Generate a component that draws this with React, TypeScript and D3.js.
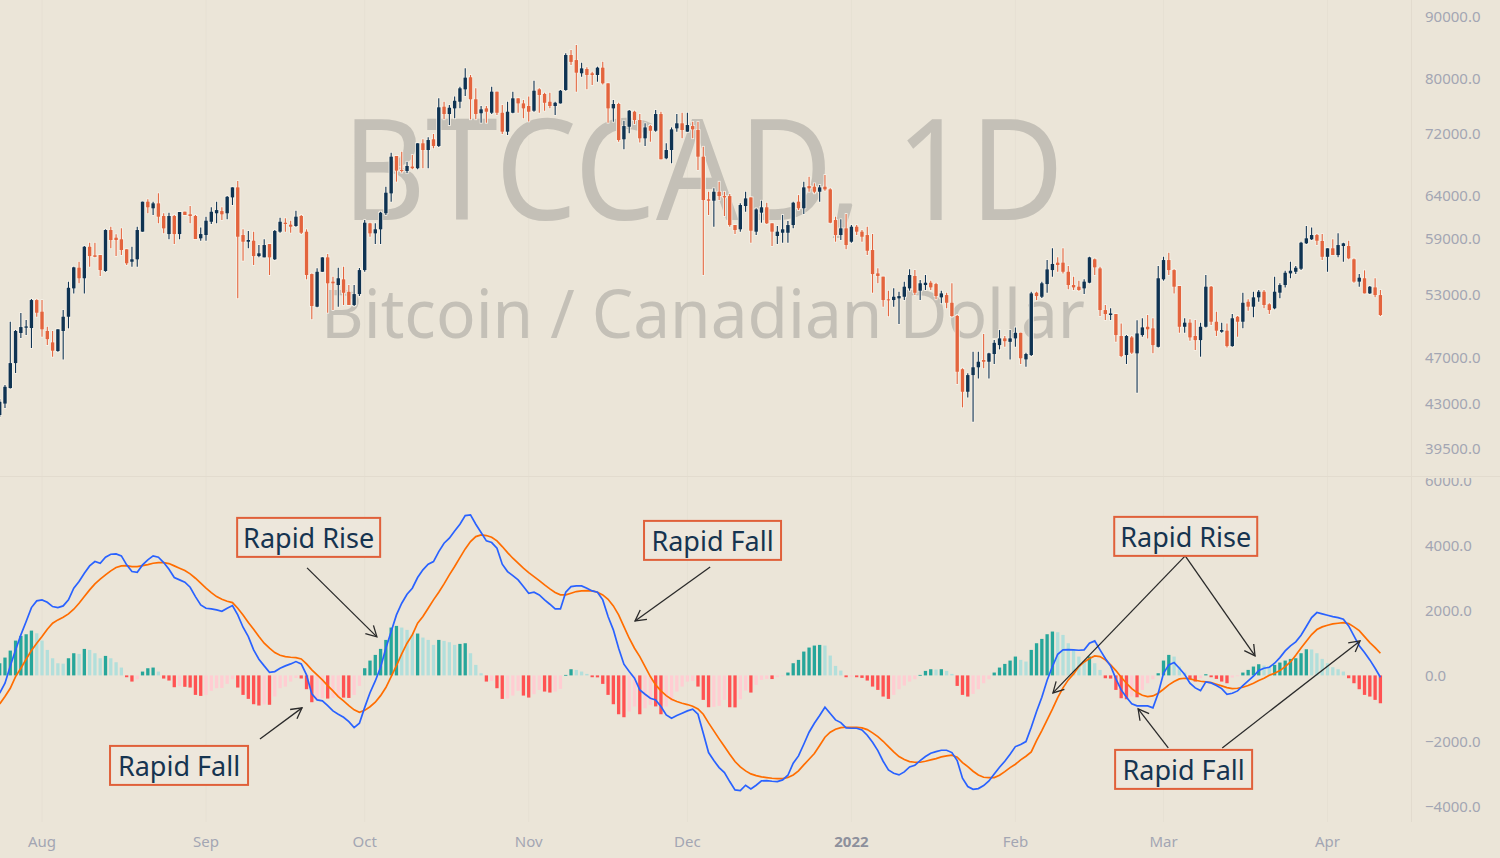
import React from 'react';
import * as d3 from 'd3';

// BTCCAD daily candles, 2021-07-24 .. 2022-04-11
const START = Date.UTC(2021, 6, 24);
const END = Date.UTC(2022, 3, 11);
const DAY = 864e5;

const opens = [
  42060, 42990, 44280, 46440, 49180, 49680, 49650, 52370, 51220, 49370,
  48310, 47520, 49370, 50730, 53550, 55700, 54590, 57970, 57030, 57060,
  55350, 59850, 58980, 58800, 57690, 56340, 56600, 59660, 63170, 62380,
  62970, 61470, 59390, 61470, 59390, 61980, 61670, 61470, 58910, 59280,
  60800, 61790, 62050, 61790, 63690, 64920, 59280, 58530, 58640, 56950,
  56810, 58270, 56600, 59660, 60690, 60460, 60310, 61470, 59660, 55030,
  51710, 55270, 56810, 54240, 53890, 54480, 53200, 51880, 52970, 55450,
  60620, 59470, 59930, 61790, 64180, 68920, 67110, 66980, 67540, 67330,
  70610, 69710, 71150, 70250, 75710, 74660, 75470, 76430, 78260, 80080,
  76790, 74770, 75470, 74840, 77910, 74840, 72190, 74840, 76930, 76190,
  75810, 75130, 78260, 77570, 76430, 75810, 76190, 78160, 83550, 82750,
  80690, 81350, 80690, 80430, 81560, 79160, 75470, 76100, 71150, 72870,
  74990, 73810, 71280, 72970, 72320, 74660, 68620, 69710, 72650, 73350,
  72190, 72970, 72420, 68830, 63450, 63290, 64380, 63850, 63850, 60420,
  59930, 62650, 63690, 59660, 61860, 62500, 60620, 59170, 59540, 59540,
  60420, 63170, 62380, 65080, 65000, 64380, 65000, 64670, 61000, 59280,
  60040, 58530, 60230, 59660, 59280, 57610, 55100, 54760, 52440, 52370,
  52540, 52700, 53550, 54830, 53310, 53890, 54130, 53990, 52640, 52870,
  52100, 50800, 45900, 43970, 45390, 46070, 46710, 46560, 47250, 48060,
  48680, 48360, 48680, 49200, 46770, 47160, 53110, 52700, 53990, 55450,
  56240, 56240, 55270, 53890, 53720, 53550, 54130, 56600, 55630, 51380,
  50900, 50990, 48900, 47160, 48770, 47310, 48990, 49770, 49620, 47900,
  54480, 56520, 55450, 53790, 49770, 50160, 48900, 48520, 49770, 53720,
  50250, 49300, 49400, 47970, 50730, 50250, 52200, 51710, 52640, 53210,
  51950, 51550, 53110, 53890, 55100, 55270, 55590, 58350, 58800, 59280,
  58610, 56870, 57800, 57060, 58050, 58050, 56600, 54240, 54590, 53040,
  53650, 52870,
];

const highs = [
  43360, 44530, 50250, 49460, 51090, 50410, 52470, 52440, 52370, 49770,
  49370, 49530, 51380, 54230, 55810, 56330, 58050, 58420, 58420, 57060,
  59930, 60230, 59360, 60040, 57690, 57970, 60230, 63170, 63450, 63170,
  64180, 61790, 61860, 61590, 61940, 61980, 62650, 61590, 60150, 61390,
  62500, 63170, 62500, 63850, 64920, 65710, 59930, 59740, 59660, 58160,
  58800, 58270, 59850, 61270, 61200, 60920, 62090, 61590, 59930, 55100,
  55630, 56810, 57170, 54760, 55700, 55810, 53890, 53890, 55660, 61000,
  60690, 60620, 61980, 64990, 69350, 68920, 69480, 68180, 69050, 70610,
  71150, 71420, 71870, 76930, 76430, 75950, 77180, 78650, 81450, 80430,
  78410, 75810, 75810, 78650, 77910, 75950, 76430, 77910, 76930, 76680,
  77180, 79550, 78410, 77760, 77760, 76430, 78160, 83820, 84350, 85160,
  82330, 81610, 80940, 81710, 82480, 79160, 76680, 76290, 73710, 75230,
  75130, 74660, 73350, 73110, 75230, 74990, 70610, 72780, 74660, 74840,
  74840, 73570, 73570, 70150, 64380, 64800, 65630, 64380, 64090, 60420,
  62970, 64380, 63690, 62380, 63290, 63050, 60620, 60310, 61590, 60880,
  63170, 63970, 65630, 66250, 65420, 65210, 66470, 64800, 61390, 61080,
  61710, 60420, 60420, 59850, 60230, 59390, 55630, 54760, 53310, 53550,
  53210, 54240, 55530, 55450, 54410, 54930, 54340, 54130, 53310, 53110,
  54070, 50900, 45980, 45540, 47460, 47460, 49080, 47370, 48520, 49460,
  48900, 49460, 49710, 49200, 47370, 53210, 53210, 54240, 56520, 57800,
  56810, 57800, 55880, 54760, 54340, 54480, 56880, 56700, 55810, 51880,
  51550, 50990, 50090, 48990, 48900, 50380, 50580, 50900, 50580, 55880,
  56880, 57310, 55530, 53790, 50580, 50480, 50410, 50150, 54930, 53790,
  51220, 50150, 50090, 50990, 50800, 53110, 52440, 53210, 53380, 53380,
  52040, 54760, 54070, 55380, 56340, 55880, 58530, 60310, 60150, 59390,
  59390, 57800, 58800, 59470, 58420, 58640, 56700, 55030, 55420, 53790,
  54590, 53380,
];

const lows = [
  41900, 42620, 44240, 45570, 48710, 48990, 47790, 50730, 48830, 48060,
  47010, 47460, 46770, 49620, 53040, 54070, 53040, 55810, 56810, 54830,
  55270, 57800, 56950, 57060, 55990, 55810, 55810, 59660, 61790, 61590,
  60620, 59470, 58800, 58270, 58800, 61590, 60620, 58830, 58640, 58640,
  60540, 60620, 61000, 61080, 62770, 52540, 56440, 57800, 55990, 56810,
  56810, 54930, 56520, 59540, 59660, 59540, 60230, 59390, 54480, 50480,
  51650, 55270, 51120, 51380, 51710, 51880, 51880, 51780, 52770, 55270,
  59090, 58270, 58270, 61590, 63170, 65630, 66770, 66690, 67200, 67200,
  67330, 67330, 69940, 70110, 73910, 73110, 74050, 75470, 77270, 73910,
  73910, 73430, 73430, 74660, 74520, 71870, 71730, 74770, 74840, 74050,
  73610, 74990, 74840, 75130, 75470, 74520, 76190, 78050, 81970, 77910,
  80170, 78260, 78900, 79400, 79000, 73430, 73580, 70820, 69800, 71970,
  73250, 70700, 70250, 70820, 72190, 68490, 68490, 67970, 72190, 71280,
  72190, 71280, 67110, 54930, 61590, 60230, 63370, 61470, 60230, 59390,
  59660, 61970, 58420, 59280, 60690, 60540, 58050, 58270, 58420, 58420,
  60040, 62170, 61710, 64380, 64180, 63170, 64510, 60620, 58530, 58720,
  57690, 58420, 59280, 58530, 57060, 53110, 54070, 51710, 50770, 51710,
  50030, 52370, 53310, 52870, 52370, 53380, 53380, 52440, 52040, 51550,
  50730, 44620, 42680, 43500, 41520, 45100, 45980, 45100, 46360, 47670,
  47910, 46770, 47910, 46360, 46120, 47070, 52370, 52570, 53110, 54760,
  55270, 55100, 53450, 53380, 53310, 52970, 54070, 54930, 50800, 50410,
  50410, 48360, 46960, 46360, 47250, 43880, 48830, 48680, 47310, 47850,
  54340, 54930, 53040, 49200, 49200, 48460, 47610, 47010, 49710, 49930,
  48900, 49210, 47850, 47910, 48830, 49620, 51310, 50670, 52200, 51550,
  50990, 51450, 52540, 53650, 54590, 55030, 55450, 58270, 58720, 58160,
  56520, 55270, 57060, 56810, 56340, 56600, 54130, 53720, 53040, 52970,
  52640, 50800,
];

const closes = [
  43140, 44390, 46440, 49370, 49740, 49800, 52370, 51120, 49530, 48610,
  47550, 49530, 50730, 53610, 55740, 54590, 57970, 56950, 56870, 55450,
  59850, 58720, 58720, 57610, 56170, 56600, 59850, 63170, 62500, 62970,
  61390, 60040, 61470, 59390, 61940, 61590, 61470, 58830, 59390, 60920,
  61970, 62170, 61670, 63760, 64920, 59090, 58530, 58720, 56950, 57250,
  58160, 56810, 59740, 60800, 60540, 60230, 61390, 59540, 54930, 51780,
  55270, 56810, 54070, 54070, 54590, 53100, 51880, 52970, 55450, 60690,
  59470, 59930, 61860, 64260, 68830, 67020, 66980, 67620, 67330, 70610,
  69710, 71050, 70250, 75620, 74660, 75560, 76570, 78410, 80020, 76790,
  74660, 75330, 74990, 77910, 74840, 72190, 74990, 76930, 76190, 75470,
  74990, 78050, 77420, 76280, 75810, 76280, 78050, 83550, 82460, 80780,
  81450, 80430, 80430, 81560, 79160, 75470, 76100, 71050, 72970, 75130,
  73810, 71280, 72780, 72320, 74660, 68490, 69710, 72510, 73350, 72420,
  73110, 72510, 68830, 63370, 63290, 64380, 63850, 63690, 60420, 59850,
  62770, 63570, 59770, 62250, 62500, 60620, 59660, 59660, 59930, 60420,
  63050, 62380, 64920, 64800, 64380, 64920, 64670, 60690, 59280, 60040,
  58160, 60230, 59660, 59090, 57530, 55030, 54830, 52370, 52370, 52700,
  52770, 53720, 54930, 53100, 54070, 54130, 53650, 52770, 53040, 52100,
  50800, 45680, 43970, 45390, 46070, 46560, 46560, 47310, 48270, 48680,
  48420, 48680, 49200, 46870, 47250, 53040, 52770, 54070, 55520, 56100,
  55990, 55270, 53890, 53650, 53380, 54240, 56810, 55740, 51380, 50990,
  51050, 48990, 47070, 48900, 47370, 49140, 49710, 49530, 48060, 54590,
  56520, 55450, 53720, 49770, 50160, 48770, 48520, 49770, 53720, 50250,
  49400, 49460, 47970, 50580, 50250, 52100, 51710, 52640, 53210, 51880,
  51380, 53210, 53890, 55170, 55380, 55700, 58420, 58910, 59280, 58640,
  56870, 57800, 57060, 58160, 58350, 56700, 54240, 54650, 53040, 53720,
  52870, 50900,
];

// MACD (12, 26, 9) pane
const macd = [
  -546, -240, 291, 781, 1240, 1649, 2077, 2282, 2313, 2241,
  2108, 2077, 2128, 2313, 2670, 2874, 3129, 3354, 3487, 3436,
  3620, 3711, 3722, 3660, 3385, 3180, 3160, 3385, 3538, 3660,
  3620, 3456, 3252, 2997, 2925, 2854, 2700, 2414, 2159, 2057,
  2037, 2006, 1965, 2057, 2139, 1853, 1475, 1189, 781, 495,
  291, 97, 117, 219, 291, 352, 424, 352, 15, -567,
  -750, -781, -924, -1087, -1189, -1281, -1414, -1598, -1465, -980,
  -530, -170, 250, 832, 1343, 1853, 2210, 2486, 2670, 2997,
  3232, 3405, 3487, 3793, 4048, 4201, 4426, 4630, 4896, 4916,
  4630, 4375, 4120, 4069, 3895, 3405, 3180, 3058, 2925, 2721,
  2517, 2547, 2466, 2313, 2180, 2037, 2037, 2547, 2721, 2741,
  2741, 2670, 2588, 2547, 2313, 1802, 1394, 832, 342, 117,
  -87, -444, -577, -699, -750, -954, -1210, -1312, -1230, -1159,
  -1087, -1036, -1189, -1771, -2364, -2609, -2824, -2976, -3252, -3507,
  -3528, -3364, -3477, -3364, -3232, -3221, -3242, -3252, -3201, -3058,
  -2690, -2466, -2108, -1741, -1465, -1230, -975, -1169, -1363, -1445,
  -1608, -1618, -1618, -1669, -1833, -2047, -2302, -2629, -2895, -2997,
  -3048, -2956, -2803, -2752, -2609, -2486, -2384, -2333, -2292, -2292,
  -2364, -2609, -3150, -3405, -3487, -3466, -3375, -3232, -3017, -2813,
  -2629, -2415, -2180, -2119, -2027, -1588, -1108, -669, -148, 271,
  648, 781, 791, 781, 771, 781, 985, 1057, 781, 516,
  291, -107, -444, -669, -873, -934, -934, -934, -995, -546,
  66, 322, 393, 220, 26, -240, -383, -465, -199, -230,
  -311, -403, -577, -546, -475, -311, -168, -26, 148, 220,
  250, 373, 546, 750, 904, 1026, 1230, 1496, 1771, 1925,
  1884, 1843, 1802, 1771, 1720, 1516, 1210, 904, 699, 475,
  220, -56,
];

const signal = [
  -873, -648, -393, -36, 219, 495, 761, 985, 1189, 1414,
  1598, 1700, 1782, 1884, 2027, 2211, 2414, 2619, 2803, 2946,
  3078, 3201, 3303, 3354, 3364, 3334, 3334, 3364, 3395, 3436,
  3456, 3456, 3425, 3354, 3283, 3211, 3109, 2976, 2823, 2670,
  2537, 2414, 2333, 2272, 2231, 2057, 1853, 1618, 1414, 1189,
  985, 832, 699, 618, 577, 556, 546, 505, 352, 168,
  15, -138, -311, -475, -648, -781, -924, -1056, -1128, -1070,
  -960, -822, -620, -373, -36, 301, 659, 985, 1241, 1598,
  1802, 2057, 2313, 2547, 2803, 3078, 3334, 3609, 3875, 4099,
  4252, 4303, 4283, 4232, 4120, 3946, 3762, 3589, 3436, 3283,
  3150, 3027, 2905, 2772, 2649, 2537, 2466, 2466, 2517, 2568,
  2588, 2598, 2588, 2547, 2466, 2333, 2129, 1853, 1496, 1138,
  832, 577, 271, -36, -291, -475, -618, -730, -801, -853,
  -893, -944, -1026, -1189, -1455, -1700, -1945, -2180, -2415, -2639,
  -2803, -2925, -3017, -3068, -3109, -3129, -3150, -3160, -3160, -3129,
  -3048, -2925, -2741, -2568, -2394, -2149, -1894, -1741, -1649, -1598,
  -1588, -1588, -1588, -1608, -1659, -1761, -1873, -2017, -2180, -2343,
  -2486, -2578, -2639, -2660, -2660, -2629, -2588, -2547, -2496, -2466,
  -2445, -2507, -2670, -2792, -2935, -3048, -3119, -3129, -3129, -3058,
  -2946, -2824, -2721, -2588, -2476, -2343, -1996, -1690, -1363, -1036,
  -679, -383, -138, 46, 271, 413, 516, 597, 577, 475,
  322, 148, -56, -240, -403, -526, -607, -648, -628, -546,
  -424, -291, -189, -107, -87, -107, -148, -179, -199, -220,
  -271, -322, -373, -403, -393, -362, -311, -240, -158, -87,
  5, 66, 148, 271, 413, 618, 842, 1047, 1251, 1404,
  1486, 1537, 1577, 1598, 1618, 1588, 1486, 1373, 1189, 1006,
  853, 679,
];

const hist = [
  372, 546, 760, 1066, 1209, 1260, 1372, 1290, 1066, 780,
  525, 372, 360, 525, 679, 658, 811, 780, 679, 525,
  597, 525, 403, 240, -56, -189, -117, 117, 219, 240,
  117, -97, -158, -362, -330, -350, -372, -597, -628, -597,
  -474, -393, -385, -260, -117, -372, -597, -719, -883, -923,
  -890, -900, -648, -393, -342, -189, -80, -95, -423, -821,
  -750, -699, -710, -690, -670, -680, -690, -600, -322, 220,
  454, 628, 812, 1087, 1465, 1516, 1465, 1394, 1261, 1282,
  1159, 1087, 934, 1087, 1057, 1016, 934, 965, 985, 679,
  322, 66, -189, -170, -393, -720, -710, -617, -474, -618,
  -679, -577, -444, -495, -526, -495, -413, 15, 189, 168,
  117, 46, -56, -60, -260, -597, -883, -1190, -1281, -1108,
  -955, -1190, -1006, -904, -950, -1190, -955, -800, -495, -342,
  -189, -170, -342, -750, -975, -965, -934, -750, -975, -980,
  -730, -465, -526, -291, -138, -107, -112, -56, -15, 87,
  373, 475, 730, 853, 914, 934, 914, 608, 291, 148,
  -56, -36, -56, -77, -158, -342, -444, -648, -720, -597,
  -424, -311, -189, -117, 15, 138, 189, 180, 190, 138,
  46, -322, -597, -648, -567, -424, -240, -117, 87, 240,
  352, 454, 577, 475, 424, 781, 985, 1118, 1261, 1343,
  1322, 1240, 985, 781, 577, 424, 577, 373, 168, -87,
  -97, -444, -699, -730, -648, -670, -444, -240, -117, 66,
  454, 628, 577, 271, 87, -117, -189, -87, 36, -56,
  -107, -189, -240, -66, -26, 87, 168, 271, 342, 301,
  271, 322, 393, 454, 505, 526, 679, 801, 795, 679,
  505, 373, 250, 189, 117, -87, -240, -424, -597, -648,
  -750, -853,
];

const priceTicks = [90000, 80000, 72000, 64000, 59000, 53000, 47000, 43000, 39500];
const macdTicks = [6000, 4000, 2000, 0, -2000, -4000];
const monthLabels = ['Aug', 'Sep', 'Oct', 'Nov', 'Dec', '2022', 'Feb', 'Mar', 'Apr'];
const monthDates = [
  Date.UTC(2021, 7, 1), Date.UTC(2021, 8, 1), Date.UTC(2021, 9, 1), Date.UTC(2021, 10, 1),
  Date.UTC(2021, 11, 1), Date.UTC(2022, 0, 1), Date.UTC(2022, 1, 1), Date.UTC(2022, 2, 1),
  Date.UTC(2022, 3, 1),
];

// annotations, anchored in (day index, MACD value)
const notes = [
  { text: 'Rapid Rise', at: [58.4, 4227], w: 143, arrows: [[[58.1, 3293], [71.3, 1179]]] },
  { text: 'Rapid Fall', at: [134.75, 4135], w: 137, arrows: [[[134.3, 3323], [120.1, 1669]]] },
  { text: 'Rapid Fall', at: [33.9, -2757], w: 138, arrows: [[[49.2, -1945], [57.15, -995]]] },
  {
    text: 'Rapid Rise', at: [224.2, 4258], w: 143,
    arrows: [[[224.1, 3660], [199.1, -536]], [[224.1, 3660], [237.3, 597]]],
  },
  {
    text: 'Rapid Fall', at: [223.8, -2879], w: 137,
    arrows: [[[220.9, -2221], [215.2, -1026]], [[231.1, -2221], [257.15, 1057]]],
  },
];

const BG = '#ebe5d8';
const UP = '#0f3352';
const DOWN = '#e3643d';
const EDGE = '#f7f2e9';
const AXIS_TEXT = '#a3a6b3';
const GRID = '#e6e0d3';

const Arrow = ({ x1, y1, x2, y2 }: { x1: number; y1: number; x2: number; y2: number }) => {
  const a = Math.atan2(y2 - y1, x2 - x1);
  const L = 12;
  const s = 0.5;
  const p1 = [x2 - L * Math.cos(a - s), y2 - L * Math.sin(a - s)];
  const p2 = [x2 - L * Math.cos(a + s), y2 - L * Math.sin(a + s)];
  return (
    <g stroke="#2a2a2a" strokeWidth={1.3} fill="none">
      <line x1={x1} y1={y1} x2={x2} y2={y2} />
      <polyline points={`${p1[0]},${p1[1]} ${x2},${y2} ${p2[0]},${p2[1]}`} />
    </g>
  );
};

export default function App() {
  const x = d3.scaleUtc().domain([new Date(START), new Date(END)]).range([-0.3, 1380.4]);
  const yPrice = d3.scaleLog().domain([39500, 90000]).range([448, 16]);
  const yMacd = d3.scaleLinear().domain([-4000, 6000]).range([806, 479.5]);

  const xi = (i: number) => x(new Date(START + i * DAY));
  const fmt = d3.format('.1f');

  const bodyW = 3.4;
  const barW = 3.3;

  const macdLine = d3.line<number>().x((_d, i) => xi(i)).y(d => yMacd(d));

  const histColor = (i: number) => {
    const v = hist[i];
    const prev = i > 0 ? hist[i - 1] : -Infinity;
    if (v >= 0) return prev < v ? '#26a69a' : '#b2dfdb';
    return prev < v ? '#ffcdd2' : '#ff5252';
  };

  return (
    <svg
      width={1500}
      height={858}
      style={{ position: 'fixed', left: 0, top: 0 }}
      fontFamily="'Noto Sans', sans-serif"
    >
      <defs>
        <clipPath id="pricePane">
          <rect x={0} y={0} width={1411} height={476} />
        </clipPath>
        <clipPath id="macdPane">
          <rect x={0} y={477} width={1411} height={345} />
        </clipPath>
        <clipPath id="macdAxis">
          <rect x={1411} y={478} width={89} height={344} />
        </clipPath>
      </defs>

      <rect width={1500} height={858} fill={BG} />

      {/* grid + pane separators */}
      {monthDates.map(d => (
        <line key={d} x1={x(new Date(d))} x2={x(new Date(d))} y1={0} y2={822} stroke={GRID} strokeWidth={1} />
      ))}
      <line x1={0} x2={1500} y1={476.5} y2={476.5} stroke="#e2dbce" />
      <line x1={1411.5} x2={1411.5} y1={0} y2={822} stroke="#e2dbce" />

      {/* watermark */}
      <g fill="#c4c0b7">
        <text x={342} y={220} fontSize={140} textLength={722} lengthAdjust="spacingAndGlyphs">
          BTCCAD, 1D
        </text>
        <text x={321} y={338} fontSize={67} textLength={764} lengthAdjust="spacingAndGlyphs">
          Bitcoin / Canadian Dollar
        </text>
      </g>

      {/* candles */}
      <g clipPath="url(#pricePane)">
        {closes.map((c, i) => {
          const o = opens[i];
          const cx = xi(i);
          const up = c >= o;
          const top = yPrice(Math.max(o, c));
          const bot = yPrice(Math.min(o, c));
          const h = Math.max(1, bot - top);
          return (
            <g key={i}>
              <line x1={cx} x2={cx} y1={yPrice(highs[i]) - 0.8} y2={yPrice(lows[i]) + 0.8} stroke={EDGE} strokeWidth={2.8} />
              <rect x={cx - bodyW / 2 - 0.8} y={top - 0.8} width={bodyW + 1.6} height={h + 1.6} fill={EDGE} />
              <line x1={cx} x2={cx} y1={yPrice(highs[i])} y2={yPrice(lows[i])} stroke={up ? UP : DOWN} strokeWidth={1.1} />
              <rect x={cx - bodyW / 2} y={top} width={bodyW} height={h} fill={up ? UP : DOWN} />
            </g>
          );
        })}
      </g>

      {/* MACD pane */}
      <g clipPath="url(#macdPane)">
        {hist.map((v, i) => {
          const y0 = yMacd(0);
          const y1 = yMacd(v);
          return (
            <rect
              key={i}
              x={xi(i) - barW / 2}
              y={Math.min(y0, y1)}
              width={barW}
              height={Math.max(0.8, Math.abs(y1 - y0))}
              fill={histColor(i)}
            />
          );
        })}
        <path d={macdLine(signal) ?? ''} fill="none" stroke="#ff6d00" strokeWidth={1.7} />
        <path d={macdLine(macd) ?? ''} fill="none" stroke="#2962ff" strokeWidth={1.7} />
      </g>

      {/* annotations */}
      {notes.map((n, k) => {
        const cx = xi(n.at[0]);
        const cy = yMacd(n.at[1]);
        return (
          <g key={k}>
            {n.arrows.map((a, j) => (
              <Arrow key={j} x1={xi(a[0][0])} y1={yMacd(a[0][1])} x2={xi(a[1][0])} y2={yMacd(a[1][1])} />
            ))}
            <rect x={cx - n.w / 2} y={cy - 19.5} width={n.w} height={39} fill="#ede7dc" stroke="#e0603a" strokeWidth={2} />
            <text x={cx} y={cy} textAnchor="middle" dominantBaseline="central" fontSize={27} fill="#163450">
              {n.text}
            </text>
          </g>
        );
      })}

      {/* right axes */}
      <g fontSize={15} fill={AXIS_TEXT}>
        {priceTicks.map(t => (
          <text key={t} x={1425} y={yPrice(t)} dominantBaseline="central">
            {fmt(t)}
          </text>
        ))}
        <g clipPath="url(#macdAxis)">
          {macdTicks.map(t => (
            <text key={t} x={1425} y={yMacd(t)} dominantBaseline="central">
              {fmt(t)}
            </text>
          ))}
        </g>
      </g>

      {/* time axis */}
      <g fontSize={15} textAnchor="middle">
        {monthDates.map((d, i) => (
          <text
            key={d}
            x={x(new Date(d))}
            y={841}
            dominantBaseline="central"
            fill={monthLabels[i] === '2022' ? '#8d909c' : AXIS_TEXT}
            fontWeight={monthLabels[i] === '2022' ? 700 : 400}
          >
            {monthLabels[i]}
          </text>
        ))}
      </g>
    </svg>
  );
}
